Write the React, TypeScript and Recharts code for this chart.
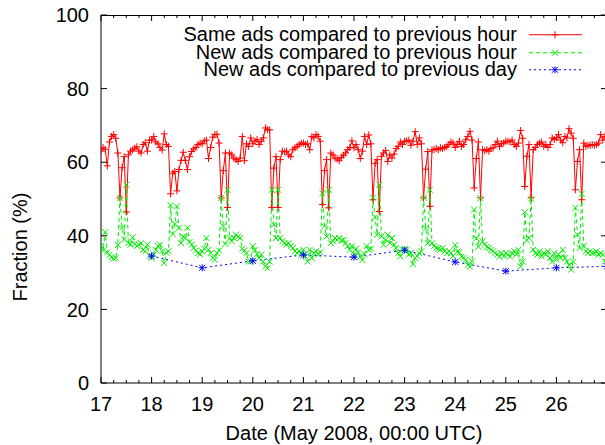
import { LineChart, Line, XAxis, YAxis, Legend } from "recharts";

const FONT = "'Liberation Sans', Arial, Helvetica, sans-serif";
const FONT_SIZE = 20;

// layout of the plot frame (the right edge sits just outside the 605px window)
const CHART_W = 615;
const CHART_H = 445;
const PLOT_TOP = 15;
const PLOT_LEFT = 101;
const PLOT_RIGHT = 607;
const X_AXIS_H = 62;
const PLOT_H = CHART_H - X_AXIS_H - PLOT_TOP;
const PLOT_W = PLOT_RIGHT - PLOT_LEFT;

// hourly samples, one row per day (17 .. 26 May 2008), hours 0..23
const days = [17, 18, 19, 20, 21, 22, 23, 24, 25, 26];

const sameAdsPrevHour = [
  63, 64, 63.5, 59, 65.5, 67, 67.5, 66.5, 62.5, 50.3, 58.5, 61.5, 46.5, 62, 63, 63.3, 63.8, 64.2, 63, 62.5, 64.8, 65.3, 63, 66,
  66, 67, 65.5, 65, 64, 63.3, 67.7, 64.8, 64.3, 51.4, 57, 57.5, 52.2, 58, 60.5, 62.7, 60.5, 58, 61.5, 62.9, 63.6, 64, 64.8, 65.2,
  65, 65.8, 66, 61, 64, 66.8, 67.5, 67.6, 65.2, 50.3, 57.7, 62.5, 47.7, 62.5, 62, 61.1, 60.7, 60.2, 61.1, 67, 60.4, 65, 64.3, 66.6,
  65, 65.7, 66.2, 64.8, 65.7, 66.6, 69.3, 68.8, 68.8, 47.7, 58.4, 61.5, 47.7, 60.7, 63, 62.8, 63, 62, 61.5, 63.4, 63.9, 64.3, 64.8, 65.2,
  65.2, 64.8, 65, 63.4, 67, 66.6, 67.5, 67, 65.7, 48.5, 57.7, 60.7, 47.6, 62.5, 62, 61.1, 60.9, 60.4, 61.3, 61.9, 62.5, 63.4, 64, 65.8,
  63.9, 64.8, 63.4, 61, 63, 67, 64.8, 67.4, 65, 49.8, 59.7, 60.7, 46.6, 61.6, 62.5, 63.2, 60.2, 62, 61.1, 62.2, 63.7, 64.3, 65.5, 64.8,
  65.7, 65.8, 66, 64.6, 65.7, 68.3, 64.8, 66.6, 65, 50.3, 58.1, 62.9, 48, 63.4, 63.4, 63.7, 63.4, 63.9, 63.7, 64, 64.3, 64.8, 65.5, 65.2,
  64, 64.8, 65.7, 64.3, 64.8, 66.1, 67, 68.4, 66, 53, 61, 65.5, 50.3, 63.4, 63.1, 63.4, 63, 63.7, 63.9, 64.8, 65.7, 64.3, 65, 65.2,
  65.7, 65.7, 65.5, 66, 64.8, 64.3, 65.2, 68.6, 66.5, 53.4, 61.6, 64.8, 50.3, 63.4, 64, 64.8, 65.2, 65.5, 64.3, 64.8, 64, 64.8, 66.6, 66.2,
  66.6, 67.5, 66, 65.3, 67, 66.6, 69.1, 67.9, 66.5, 52.5, 60.2, 63.4, 49.8, 65.2, 64.3, 64.6, 64.6, 64.8, 64.6, 64.8, 65.2, 67.5, 66, 67,
];

const newAdsPrevHour = [
  37.2, 36, 41, 35.5, 34.8, 34.2, 33.8, 34, 37.5, 50.3, 42.2, 39, 53.9, 38, 37.6, 39.6, 37.8, 37.2, 37.6, 38, 36.2, 35.8, 37.6, 34.6,
  34, 34.9, 36.2, 37.2, 37.6, 35.8, 32.6, 35.4, 35.8, 48.3, 40.5, 43.2, 48, 42.2, 38, 39.8, 39.4, 42.2, 38.3, 37.6, 36.7, 36, 35.3, 35,
  35.8, 36.5, 39.4, 36.2, 35.3, 34, 33.5, 35.3, 36, 50.3, 42.6, 37.8, 52.5, 39.4, 38.5, 39.4, 40.3, 39.8, 39.4, 36.5, 36, 35.3, 33, 33,
  37.2, 36.2, 35, 34, 34.9, 33, 31.7, 31.2, 33, 52.5, 43, 39.4, 52.5, 39.4, 38.5, 38, 37.6, 38, 37.2, 36.7, 35.8, 35.3, 35.8, 34.9,
  36.2, 34.4, 33, 36.2, 34, 35.3, 35.8, 34.9, 35.5, 51.6, 42.6, 39.8, 52.5, 38, 38.5, 39.4, 38.9, 39.4, 38.7, 38.9, 38, 37.2, 36.2, 37.2,
  34.9, 36.5, 35.5, 34.3, 33.4, 35, 37.2, 36.2, 36.5, 50.4, 45, 40.3, 53.9, 39.8, 37.6, 38.9, 40.3, 38, 39.4, 37.6, 36.7, 35.3, 34.4, 36.2,
  36.5, 36.2, 34.9, 35.3, 32.3, 34, 34.5, 35.3, 35.8, 50.3, 42.1, 38, 52.5, 38, 37.2, 36.7, 36.5, 36.2, 36.7, 35.8, 35.3, 35.8, 35.3, 34.5,
  37.5, 35.7, 35.5, 34.3, 34, 33.5, 32.1, 31.6, 33, 47.1, 39.3, 37, 50.2, 38.5, 37.6, 37, 36.7, 36.2, 35.8, 35.3, 34.9, 34.3, 35.3, 34.5,
  35.3, 34.9, 34.4, 35.3, 35.8, 34.9, 36.2, 31.7, 33, 46.4, 38.8, 39.4, 50.1, 36.2, 35.3, 34.9, 35.8, 34.4, 35.3, 34.9, 35.8, 34, 33, 35.3,
  33.5, 34.9, 34, 36.2, 34, 33, 32.1, 30.8, 33, 47.6, 40.3, 36.7, 51.4, 37.2, 35.8, 35.3, 35.8, 35.3, 35.3, 35.8, 34.9, 35.3, 34.9, 33,
];

// one sample per day at 00:00
const dailyDays = [18, 19, 20, 21, 22, 23, 24, 25, 26, 27];
const newAdsPrevDay = [34.5, 31.3, 33.2, 34.8, 34.2, 36.1, 32.9, 30.4, 31.3, 31.7];

const xTicks = [17, 18, 19, 20, 21, 22, 23, 24, 25, 26, 27];
const yTicks = [0, 20, 40, 60, 80, 100];

const hourly = sameAdsPrevHour.map((v, i) => ({
  t: days[0] + i / 24,
  same: v,
  fresh: newAdsPrevHour[i],
}));
const daily = dailyDays.map((d, i) => ({ t: d, prevDay: newAdsPrevDay[i] }));

// minor ticks every 6 hours
const quarterTicks = xTicks.flatMap((d, i) =>
  i < xTicks.length - 1 ? [d, d + 0.25, d + 0.5, d + 0.75] : [d],
);

const RED = "#ff0000";
const GREEN = "#00ee00";
const BLUE = "#0000ff";

function Plus({ cx, cy, color }: any) {
  if (cx == null || cy == null) return null;
  const r = 3.5;
  return <path d={`M${cx - r},${cy}H${cx + r}M${cx},${cy - r}V${cy + r}`} stroke={color} strokeWidth={1} fill="none" />;
}

function Cross({ cx, cy, color }: any) {
  if (cx == null || cy == null) return null;
  const r = 3;
  return (
    <path
      d={`M${cx - r},${cy - r}L${cx + r},${cy + r}M${cx - r},${cy + r}L${cx + r},${cy - r}`}
      stroke={color}
      strokeWidth={1}
      fill="none"
    />
  );
}

function Star({ cx, cy, color }: any) {
  if (cx == null || cy == null) return null;
  return (
    <g>
      <Plus cx={cx} cy={cy} color={color} />
      <Cross cx={cx} cy={cy} color={color} />
    </g>
  );
}

const series = [
  { name: "Same ads compared to previous hour", color: RED, dash: undefined, Mark: Plus },
  { name: "New ads compared to previous hour", color: GREEN, dash: "4 3", Mark: Cross },
  { name: "New ads compared to previous day", color: BLUE, dash: "2 3", Mark: Star },
];

function KeyBox() {
  return (
    <div style={{ fontFamily: FONT, fontSize: FONT_SIZE, color: "#000" }}>
      {series.map((s) => (
        <div key={s.name} style={{ display: "flex", alignItems: "center", height: 17.5 }}>
          <span style={{ width: 517, textAlign: "right", whiteSpace: "nowrap", lineHeight: "17.5px" }}>{s.name}</span>
          <svg width={60} height={17.5} style={{ marginLeft: 12, overflow: "visible" }}>
            <line x1={0} y1={8.75} x2={53} y2={8.75} stroke={s.color} strokeDasharray={s.dash} />
            <s.Mark cx={26} cy={8.75} color={s.color} />
          </svg>
        </div>
      ))}
    </div>
  );
}

const textStyle = { fontFamily: FONT, fontSize: FONT_SIZE, fill: "#000" };

// bottom ticks also mirror onto the top border (gnuplot style, ticks point inward)
function BottomTick({ x, y, payload }: any) {
  const v = payload.value;
  const major = Number.isInteger(v);
  const len = major ? 6 : 3;
  const top = y - PLOT_H;
  return (
    <g>
      <line x1={x} y1={y} x2={x} y2={y - len} stroke="#000" />
      <line x1={x} y1={top} x2={x} y2={top + len} stroke="#000" />
      {major && v < 27 && (
        <text x={x} y={y + 28} textAnchor="middle" style={textStyle}>
          {v}
        </text>
      )}
    </g>
  );
}

function LeftTick({ x, y, payload }: any) {
  const right = x + PLOT_W;
  return (
    <g>
      <line x1={x} y1={y} x2={x + 6} y2={y} stroke="#000" />
      <line x1={right} y1={y} x2={right - 6} y2={y} stroke="#000" />
      <text x={x - 12} y={y} dy="0.36em" textAnchor="end" style={textStyle}>
        {payload.value}
      </text>
    </g>
  );
}

function YTitle({ viewBox }: any) {
  const cx = viewBox.x - 21;
  const cy = viewBox.y + viewBox.height / 2 + 48;
  return (
    <text
      x={cx}
      y={cy}
      transform={`rotate(-90, ${cx}, ${cy})`}
      textAnchor="middle"
      dy="0.36em"
      style={textStyle}
    >
      Fraction (%)
    </text>
  );
}

export default function App() {
  return (
    <div style={{ position: "absolute", left: 0, top: 0, width: 605, height: CHART_H, overflow: "hidden", background: "#fff" }}>
      <LineChart
        width={CHART_W}
        height={CHART_H}
        data={hourly}
        margin={{ top: PLOT_TOP, right: CHART_W - PLOT_RIGHT, left: PLOT_LEFT - 60, bottom: 0 }}
      >
        <XAxis
          dataKey="t"
          type="number"
          domain={[17, 27]}
          ticks={quarterTicks}
          interval={0}
          height={X_AXIS_H}
          tickSize={0}
          tickMargin={0}
          tickLine={false}
          axisLine={{ stroke: "#000" }}
          tick={(p: any) => <BottomTick {...p} />}
          allowDataOverflow
          label={{ value: "Date (May 2008, 00:00 UTC)", position: "insideBottom", offset: 5, style: textStyle }}
        />
        <YAxis
          type="number"
          domain={[0, 100]}
          ticks={yTicks}
          interval={0}
          width={60}
          tickSize={0}
          tickMargin={0}
          tickLine={false}
          axisLine={{ stroke: "#000" }}
          tick={(p: any) => <LeftTick {...p} />}
          label={{ content: (p: any) => <YTitle {...p} /> }}
        />
        <Legend
          layout="vertical"
          verticalAlign="middle"
          align="center"
          wrapperStyle={{ top: 26.25, left: 0, width: 605 }}
          content={() => <KeyBox />}
        />
        <Line
          dataKey="same"
          name={series[0].name}
          type="linear"
          stroke={RED}
          strokeWidth={1}
          dot={(p: any) => <Plus key={`s${p.index}`} cx={p.cx} cy={p.cy} color={RED} />}
          activeDot={false}
          isAnimationActive={false}
        />
        <Line
          dataKey="fresh"
          name={series[1].name}
          type="linear"
          stroke={GREEN}
          strokeWidth={1}
          strokeDasharray="4 3"
          dot={(p: any) => <Cross key={`f${p.index}`} cx={p.cx} cy={p.cy} color={GREEN} />}
          activeDot={false}
          isAnimationActive={false}
        />
        <Line
          data={daily}
          dataKey="prevDay"
          name={series[2].name}
          type="linear"
          stroke={BLUE}
          strokeWidth={1}
          strokeDasharray="2 3"
          dot={(p: any) => <Star key={`d${p.index}`} cx={p.cx} cy={p.cy} color={BLUE} />}
          activeDot={false}
          isAnimationActive={false}
        />
      </LineChart>
      {/* top border of the frame */}
      <div style={{ position: "absolute", left: PLOT_LEFT, top: PLOT_TOP, width: PLOT_W, height: 1, background: "#000" }} />
    </div>
  );
}
